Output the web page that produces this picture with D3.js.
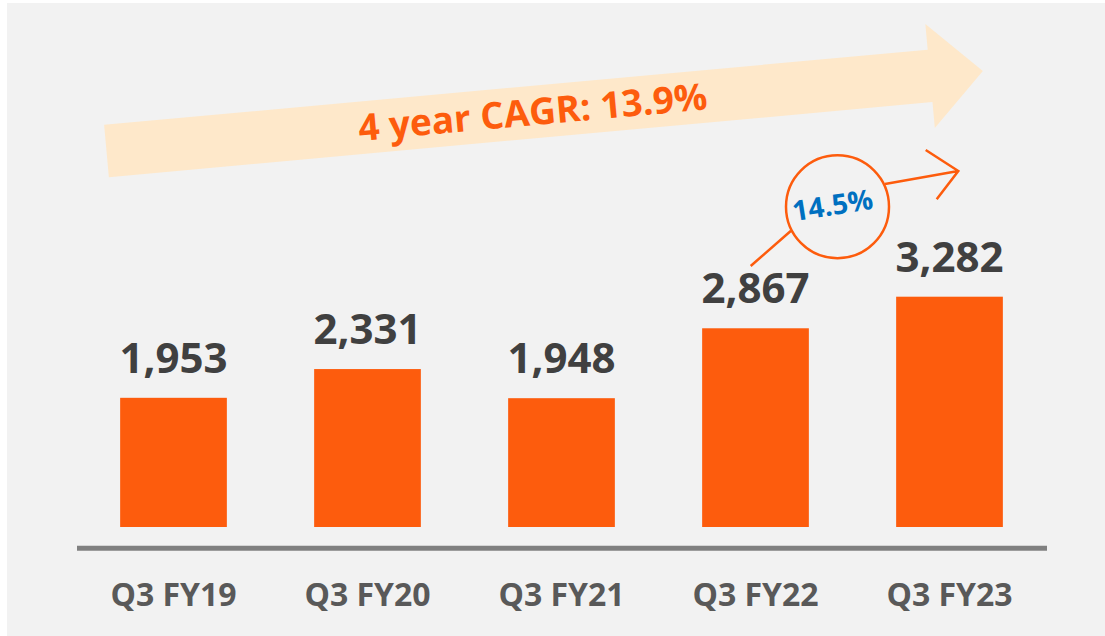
<!DOCTYPE html>
<html>

<head>
    <title>Q3 revenue</title>
    <script src="https://d3js.org/d3.v7.min.js"></script>
    <style>
        body {
            margin: 0;
            background-color: #ffffff;
        }

        text {
            font-family: "Open Sans", "DejaVu Sans", sans-serif;
            font-weight: bold;
        }
    </style>
</head>

<body>
    <svg id="chart" width="1105" height="636"></svg>

    <script>
        // data
        var categories = ["Q3 FY19", "Q3 FY20", "Q3 FY21", "Q3 FY22", "Q3 FY23"];
        var values = [1953, 2331, 1948, 2867, 3282];
        var cagrLabel = "4 year CAGR: 13.9%";
        var growthLabel = "14.5%";

        var orange = "#fd5c0d";
        var svg = d3.select("#chart");

        // grey panel
        svg.append("rect")
            .attr("x", 7).attr("y", 3)
            .attr("width", 1098).attr("height", 633)
            .attr("fill", "#f2f2f2");

        var xScale = d3.scaleBand()
            .domain(categories)
            .range([76.5, 1046.5])
            .paddingInner(0.45)
            .paddingOuter(0.225);

        // baseline of the bars is not zero in the original slide
        var yScale = d3.scaleLinear()
            .domain([255, 3282])
            .range([527, 296.7]);

        var rows = categories.map(function(c, i) {
            return { cat: c, value: values[i] };
        });

        // big CAGR arrow
        var big = svg.append("g")
            .attr("transform", "translate(106.5,151) rotate(-5.21)");
        big.append("polygon")
            .attr("points", [
                [0, -26.3], [827, -26.3], [827, -52.2], [880, 0],
                [827, 52.2], [827, 26.3], [0, 26.3]
            ].join(" "))
            .attr("fill", "#fee8ca");
        big.append("text")
            .attr("x", 428).attr("y", 13)
            .attr("text-anchor", "middle")
            .style("font-size", "37px")
            .attr("fill", orange)
            .text(cagrLabel);

        // bars
        svg.selectAll(".bar")
            .data(rows)
            .enter()
            .append("rect")
            .attr("class", "bar")
            .attr("x", function(d) { return xScale(d.cat); })
            .attr("width", xScale.bandwidth())
            .attr("y", function(d) { return yScale(d.value); })
            .attr("height", function(d) { return yScale.range()[0] - yScale(d.value); })
            .attr("fill", orange);

        // value labels
        svg.selectAll(".val")
            .data(rows)
            .enter()
            .append("text")
            .attr("class", "val")
            .attr("x", function(d) { return xScale(d.cat) + xScale.bandwidth() / 2; })
            .attr("y", function(d) { return yScale(d.value) - 25; })
            .attr("text-anchor", "middle")
            .style("font-size", "42px")
            .attr("fill", "#404040")
            .text(function(d) { return d3.format(",")(d.value); });

        // x axis
        var axis = svg.append("g")
            .attr("transform", "translate(0,547.8)")
            .call(d3.axisBottom(xScale).tickSize(0).tickSizeOuter(0));
        axis.select(".domain")
            .attr("stroke", "#808080")
            .attr("stroke-width", 5);
        axis.selectAll(".tick text")
            .attr("y", 58.5)
            .attr("dy", null)
            .attr("fill", "#595959")
            .style("font-family", "'Open Sans', sans-serif")
            .style("font-weight", "bold")
            .style("font-size", "32px");

        // yoy growth bubble
        var ann = svg.append("g");
        ann.append("circle")
            .attr("cx", 837.5).attr("cy", 206.7).attr("r", 51.5)
            .attr("fill", "none")
            .attr("stroke", orange)
            .attr("stroke-width", 2.5);
        ann.append("path")
            .attr("d", "M750.7,266L791,230.7M885,184L958.3,171M925.7,150L958.3,171L936.7,199.3")
            .attr("fill", "none")
            .attr("stroke", orange)
            .attr("stroke-width", 2.5);
        ann.append("text")
            .attr("transform", "translate(834,215) rotate(-9)")
            .attr("text-anchor", "middle")
            .style("font-size", "28px")
            .attr("fill", "#0070c0")
            .text(growthLabel);
    </script>
</body>

</html>
